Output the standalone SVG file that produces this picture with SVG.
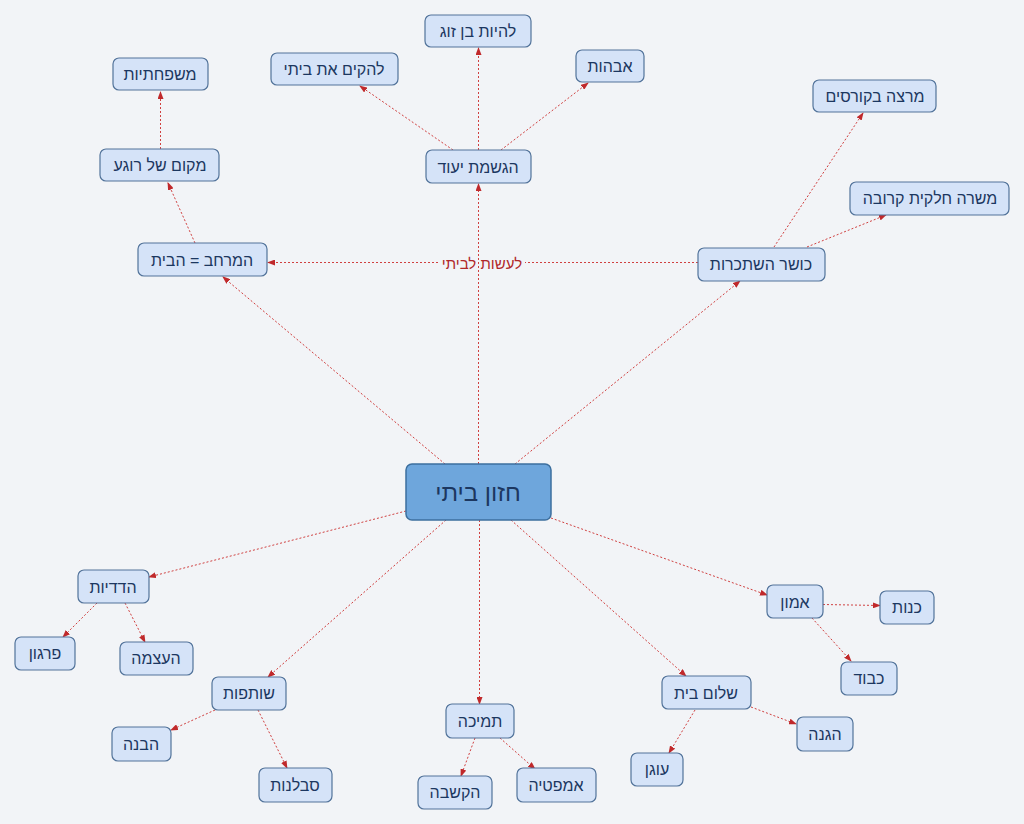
<svg xmlns="http://www.w3.org/2000/svg" width="1024" height="824" viewBox="0 0 1024 824">
<style>
.n rect{fill:#d5e3f8;stroke:#52739a;stroke-width:1.2}
.n text{font-family:"Liberation Sans","DejaVu Sans",sans-serif;font-size:16px;fill:#1c3760;text-anchor:middle;dominant-baseline:central}
.c{fill:#6ea6dc;stroke:#3d6f9e;stroke-width:1.5}
.ct{font-family:"Liberation Sans","DejaVu Sans",sans-serif;font-size:24px;fill:#1c3760;text-anchor:middle;dominant-baseline:central}
.e line{stroke:#d04040;stroke-width:1;stroke-dasharray:2,2;marker-end:url(#a)}
.lbl{font-family:"Liberation Sans","DejaVu Sans",sans-serif;font-size:15px;fill:#b0282a;text-anchor:middle;dominant-baseline:central}
</style>
<defs>
<marker id="a" markerWidth="8" markerHeight="6" refX="7" refY="3" orient="auto" markerUnits="userSpaceOnUse">
<path d="M0,0 L8,3 L0,6 z" fill="#c0292b"/>
</marker>
</defs>
<rect width="1024" height="824" fill="#f2f4f7"/>
<g id="connectors" class="e">
<line x1="698" y1="262.5" x2="268" y2="262.5"/>
<rect x="440" y="253" width="85" height="19" fill="#f2f4f7"/>
<text class="lbl" x="482" y="263">לעשות לביתי</text>
<line x1="445" y1="464" x2="223" y2="277"/>
<line x1="478.5" y1="464" x2="478.5" y2="184"/>
<line x1="515" y1="464" x2="740" y2="281"/>
<line x1="406" y1="511" x2="149" y2="577"/>
<line x1="446" y1="520" x2="268" y2="677"/>
<line x1="479.5" y1="520" x2="479.5" y2="704"/>
<line x1="511" y1="520" x2="686" y2="676"/>
<line x1="551" y1="518" x2="767" y2="595"/>
<line x1="478.5" y1="150" x2="478.5" y2="48"/>
<line x1="453" y1="150" x2="360" y2="86"/>
<line x1="501" y1="150" x2="588" y2="83"/>
<line x1="195" y1="243" x2="168" y2="183"/>
<line x1="160.5" y1="149" x2="160.5" y2="92"/>
<line x1="774" y1="247" x2="863" y2="113"/>
<line x1="807" y1="247" x2="886" y2="215"/>
<line x1="97" y1="603" x2="63" y2="637"/>
<line x1="125" y1="603" x2="145" y2="642"/>
<line x1="215" y1="710" x2="171" y2="730"/>
<line x1="258" y1="710" x2="287" y2="768"/>
<line x1="475" y1="738" x2="461" y2="776"/>
<line x1="500" y1="738" x2="535" y2="769"/>
<line x1="823" y1="604.5" x2="880" y2="605.5"/>
<line x1="812" y1="618" x2="851" y2="661"/>
<line x1="751" y1="707" x2="796" y2="724"/>
<line x1="695" y1="710" x2="669" y2="753"/>
</g>
<g id="center"><rect class="c" x="406" y="464" width="145" height="56" rx="6"/><text class="ct" x="478" y="492">חזון ביתי</text></g>
<g id="n-ben-zug" class="n"><rect x="425" y="15" width="106" height="32" rx="6"/><text x="478" y="31">להיות בן זוג</text></g>
<g id="n-lehakim" class="n"><rect x="271" y="53" width="127" height="32" rx="6"/><text x="334" y="69">להקים את ביתי</text></g>
<g id="n-avahut" class="n"><rect x="576" y="50" width="68" height="32" rx="6"/><text x="610" y="66">אבהות</text></g>
<g id="n-hagshama" class="n"><rect x="426" y="150" width="105" height="33" rx="6"/><text x="478" y="167">הגשמת יעוד</text></g>
<g id="n-mishpachtiut" class="n"><rect x="113" y="58" width="95" height="32" rx="6"/><text x="160" y="74">משפחתיות</text></g>
<g id="n-makom" class="n"><rect x="100" y="149" width="119" height="32" rx="6"/><text x="160" y="165">מקום של רוגע</text></g>
<g id="n-merchav" class="n"><rect x="138" y="243" width="129" height="33" rx="6"/><text x="202" y="260">המרחב = הבית</text></g>
<g id="n-martze" class="n"><rect x="813" y="80" width="123" height="32" rx="6"/><text x="875" y="96">מרצה בקורסים</text></g>
<g id="n-misra" class="n"><rect x="850" y="182" width="159" height="33" rx="6"/><text x="930" y="198">משרה חלקית קרובה</text></g>
<g id="n-kosher" class="n"><rect x="698" y="248" width="127" height="33" rx="6"/><text x="761" y="264">כושר השתכרות</text></g>
<g id="n-hadadiut" class="n"><rect x="78" y="570" width="71" height="33" rx="6"/><text x="113" y="587">הדדיות</text></g>
<g id="n-firgun" class="n"><rect x="15" y="637" width="60" height="33" rx="6"/><text x="45" y="653">פרגון</text></g>
<g id="n-haatzama" class="n"><rect x="120" y="642" width="73" height="33" rx="6"/><text x="156" y="658">העצמה</text></g>
<g id="n-shutfut" class="n"><rect x="212" y="677" width="74" height="33" rx="6"/><text x="249" y="693">שותפות</text></g>
<g id="n-havana" class="n"><rect x="112" y="727" width="59" height="34" rx="6"/><text x="141" y="744">הבנה</text></g>
<g id="n-savlanut" class="n"><rect x="259" y="768" width="73" height="34" rx="6"/><text x="295" y="785">סבלנות</text></g>
<g id="n-tmicha" class="n"><rect x="446" y="704" width="68" height="34" rx="6"/><text x="480" y="721">תמיכה</text></g>
<g id="n-hakshava" class="n"><rect x="418" y="776" width="74" height="33" rx="6"/><text x="455" y="792">הקשבה</text></g>
<g id="n-empatia" class="n"><rect x="517" y="768" width="79" height="34" rx="6"/><text x="556" y="785">אמפטיה</text></g>
<g id="n-emun" class="n"><rect x="767" y="585" width="56" height="33" rx="6"/><text x="795" y="602">אמון</text></g>
<g id="n-kenut" class="n"><rect x="880" y="591" width="54" height="33" rx="6"/><text x="907" y="607">כנות</text></g>
<g id="n-kavod" class="n"><rect x="841" y="662" width="56" height="33" rx="6"/><text x="869" y="678">כבוד</text></g>
<g id="n-shalom" class="n"><rect x="662" y="676" width="89" height="33" rx="6"/><text x="706" y="693">שלום בית</text></g>
<g id="n-hagana" class="n"><rect x="797" y="717" width="56" height="34" rx="6"/><text x="825" y="734">הגנה</text></g>
<g id="n-ogen" class="n"><rect x="631" y="753" width="52" height="33" rx="6"/><text x="657" y="769">עוגן</text></g>
</svg>
